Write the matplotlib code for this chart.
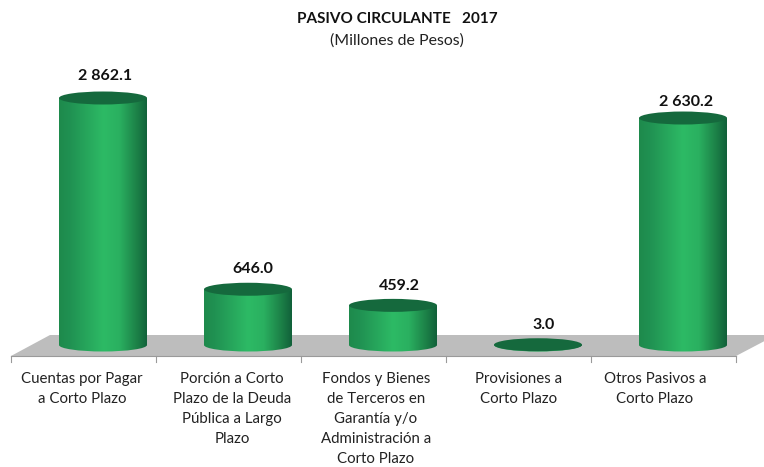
import numpy as np
import matplotlib
matplotlib.use('Agg')
import matplotlib.pyplot as plt
from matplotlib.colors import LinearSegmentedColormap
from matplotlib.patches import Ellipse, PathPatch, Polygon
from matplotlib.path import Path

categories = ['Cuentas por Pagar\na Corto Plazo',
              'Porción a Corto\nPlazo de la Deuda\nPública a Largo\nPlazo',
              'Fondos y Bienes\nde Terceros en\nGarantía y/o\nAdministración a\nCorto Plazo',
              'Provisiones a\nCorto Plazo',
              'Otros Pasivos a\nCorto Plazo']
values = [2862.1, 646.0, 459.2, 3.0, 2630.2]
value_labels = ['2 862.1', '646.0', '459.2', '3.0', '2 630.2']

#pixel scale of the original picture
W, H = 764, 467
px_x = 145.0
px_y = 0.0863
x0_px = 103
y0_px = 345

plt.rcParams['font.family'] = ['Lato', 'DejaVu Sans']

fig = plt.figure(figsize=(W / 100, H / 100), dpi=100)
ax = fig.add_axes([0, 0, 1, 1])


def dx(p):
    return p / px_x


def dy(p):
    return p / px_y


#floor of the 3d chart
n = len(categories)
left = dx(11 - x0_px)
right = left + n
front = dy(-11)
back = dy(10)
floor = Polygon([(left, front), (left + dx(39), back), (right + dx(40), back), (right, front)],
                closed=True, fc='#bdbdbd', ec='none', zorder=1)
ax.add_patch(floor)
ax.plot([left, right], [front, front], color='#9a9a9a', lw=0.8, zorder=1.5)
for i in range(n + 1):
    tx = left + i
    ax.plot([tx, tx], [front, front - dy(6)], color='#9a9a9a', lw=0.8, zorder=1.5)

cmap = LinearSegmentedColormap.from_list('cyl', [(0, '#1e8a4c'), (0.12, '#209152'), (0.5, '#2dba65'),
                                                 (0.68, '#2ab060'), (0.88, '#1c8047'), (1, '#11603a')])
grad = np.linspace(0, 1, 256).reshape(1, -1)

bar_w = 88 / px_x
ell_h = dy(13)
label_nudge = [(2, 22), (5, 20), (6, 19), (6, 20), (3, 16)]
cat_nudge = [-21, -16, -17, -19, -28]

for i, v in enumerate(values):
    xl = i - bar_w / 2
    xr = i + bar_w / 2
    k = 0.5523
    #side of the cylinder with rounded bottom
    verts = [(xl, v), (xl, 0),
             (xl, -k * ell_h / 2), (i - k * bar_w / 2, -ell_h / 2), (i, -ell_h / 2),
             (i + k * bar_w / 2, -ell_h / 2), (xr, -k * ell_h / 2), (xr, 0),
             (xr, v), (xl, v)]
    codes = [Path.MOVETO, Path.LINETO, Path.CURVE4, Path.CURVE4, Path.CURVE4,
             Path.CURVE4, Path.CURVE4, Path.CURVE4, Path.LINETO, Path.CLOSEPOLY]
    body = PathPatch(Path(verts, codes), fc='none', ec='none', zorder=2)
    ax.add_patch(body)
    im = ax.imshow(grad, extent=[xl, xr, -ell_h, v + ell_h], cmap=cmap, aspect='auto', zorder=2)
    im.set_clip_path(body)
    ax.add_patch(Ellipse((i, v), bar_w, ell_h, fc='#15693d', ec='none', zorder=3))
    ax.annotate(value_labels[i], (i, v), xytext=label_nudge[i], textcoords='offset pixels',
                ha='center', va='center', fontsize=11.5, fontweight='bold', color='#111111', zorder=4)
    ax.text(i + dx(cat_nudge[i]), dy(-27), categories[i], ha='center', va='top',
            fontsize=10.8, color='#222222', linespacing=1.54, zorder=4)

ax.set_xlim(-x0_px / px_x, (W - x0_px) / px_x)
ax.set_ylim(-(H - y0_px) / px_y, y0_px / px_y)
ax.axis('off')

fig.text(397 / W, 1 - 19 / H, 'PASIVO CIRCULANTE   2017', ha='center', va='center',
         fontsize=11, fontweight='bold', color='#111111')
fig.text(397 / W, 1 - 41 / H, '(Millones de Pesos)', ha='center', va='center',
         fontsize=11.4, color='#222222')

fig.savefig('out.png', dpi=100)
